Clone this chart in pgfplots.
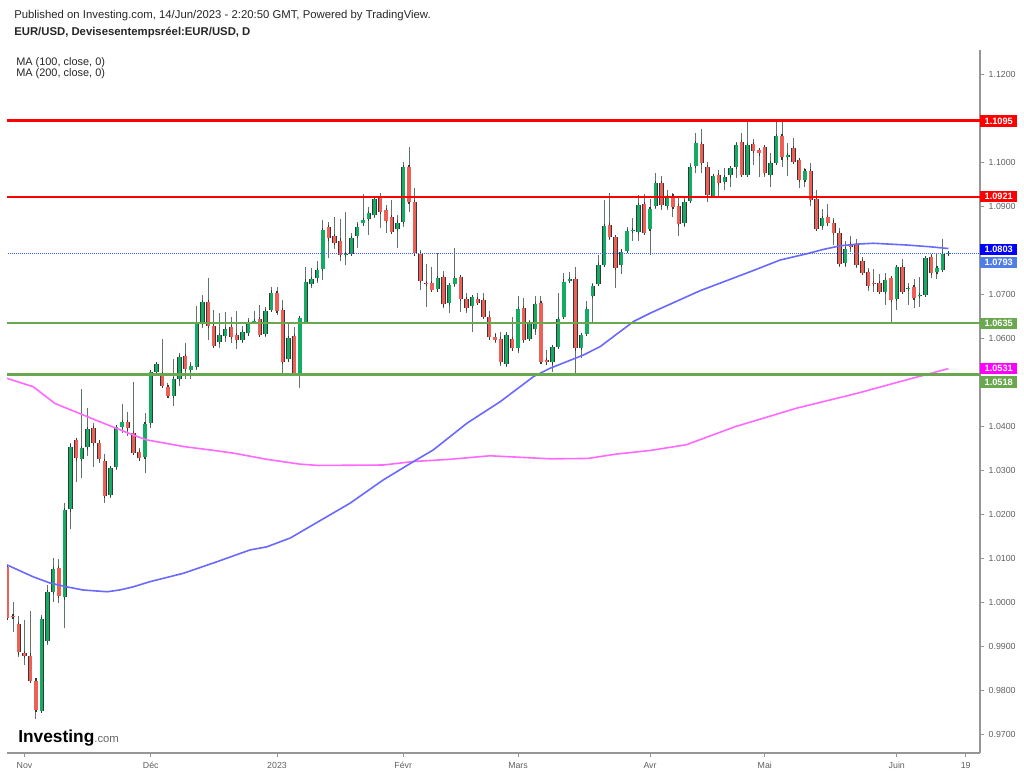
\documentclass[border=0pt]{standalone}
\usepackage{fontspec}
\setmainfont{Liberation Sans}
\usepackage{pgfplots}
\usepackage{pgfplotstable}
\pgfplotsset{compat=1.18}
\definecolor{axisgray}{RGB}{150,150,150}
\definecolor{labgray}{RGB}{95,95,95}
\definecolor{redline}{RGB}{255,0,0}
\definecolor{greenline}{RGB}{106,168,79}
\definecolor{maone}{RGB}{105,105,255}
\definecolor{matwo}{RGB}{255,105,255}
\definecolor{curblue}{RGB}{60,95,245}
\definecolor{boxcur}{RGB}{80,125,230}
\definecolor{boxblue}{RGB}{0,0,255}
\definecolor{boxmag}{RGB}{255,0,255}
\definecolor{gfill}{RGB}{18,172,98}
\definecolor{rfill}{RGB}{238,96,86}
\definecolor{outl}{RGB}{55,55,55}
\definecolor{wick}{RGB}{100,115,105}

\pgfplotstableread{
i o h l c
3 0.9754 0.9971 0.9748 0.9962
4 0.9913 1.0039 0.9903 1.0023
5 1.0024 1.0101 1.0001 1.0075
7 1.0011 1.0226 0.9941 1.0210
8 1.0211 1.0363 1.0166 1.0354
10 1.0326 1.0484 1.0282 1.0350
11 1.0352 1.0441 1.0333 1.0394
15 1.0244 1.0310 1.0236 1.0306
16 1.0307 1.0399 1.0301 1.0398
17 1.0399 1.0451 1.0384 1.0410
21 1.0330 1.0431 1.0293 1.0405
22 1.0408 1.0524 1.0395 1.0523
23 1.0524 1.0546 1.0521 1.0541
26 1.0469 1.0552 1.0446 1.0507
27 1.0508 1.0567 1.0492 1.0558
29 1.0528 1.0547 1.0507 1.0537
30 1.0535 1.0674 1.0528 1.0633
31 1.0634 1.0698 1.0623 1.0682
34 1.0592 1.0658 1.0577 1.0607
35 1.0606 1.0659 1.0591 1.0621
38 1.0596 1.0629 1.0589 1.0615
39 1.0611 1.0645 1.0608 1.0636
40 1.0637 1.0661 1.0634 1.0639
42 1.0610 1.0672 1.0604 1.0662
43 1.0664 1.0716 1.0661 1.0704
46 1.0552 1.0638 1.0547 1.0600
48 1.0522 1.0649 1.0486 1.0645
49 1.0638 1.0761 1.0634 1.0729
50 1.0723 1.0759 1.0714 1.0734
51 1.0736 1.0776 1.0726 1.0755
52 1.0757 1.0869 1.0733 1.0846
56 1.0790 1.0888 1.0767 1.0792
57 1.0792 1.0840 1.0789 1.0827
58 1.0833 1.0865 1.0805 1.0854
59 1.0861 1.0928 1.0855 1.0869
60 1.0871 1.0899 1.0835 1.0884
61 1.0880 1.0922 1.0873 1.0916
65 1.0848 1.0880 1.0805 1.0863
66 1.0865 1.1001 1.0854 1.0990
72 1.0711 1.0793 1.0706 1.0736
74 1.0680 1.0725 1.0658 1.0721
75 1.0723 1.0805 1.0717 1.0736
78 1.0673 1.0698 1.0615 1.0693
84 1.0542 1.0615 1.0535 1.0608
86 1.0577 1.0695 1.0566 1.0666
88 1.0598 1.0642 1.0594 1.0634
89 1.0620 1.0695 1.0608 1.0678
92 1.0545 1.0585 1.0524 1.0581
93 1.0581 1.0702 1.0575 1.0643
94 1.0648 1.0749 1.0643 1.0729
95 1.0731 1.0751 1.0730 1.0734
97 1.0579 1.0613 1.0555 1.0608
98 1.0610 1.0685 1.0608 1.0666
99 1.0697 1.0726 1.0634 1.0719
100 1.0723 1.0789 1.0721 1.0767
101 1.0767 1.0914 1.0761 1.0855
104 1.0767 1.0802 1.0746 1.0797
105 1.0798 1.0854 1.0795 1.0844
106 1.0844 1.0873 1.0820 1.0845
107 1.0842 1.0926 1.0822 1.0902
109 1.0848 1.0916 1.0789 1.0894
110 1.0901 1.0975 1.0893 1.0952
112 1.0901 1.0937 1.0892 1.0920
115 1.0861 1.0918 1.0854 1.0909
116 1.0913 1.0999 1.0910 1.0989
117 1.0992 1.1067 1.0975 1.1043
120 1.0923 1.0973 1.0919 1.0969
122 1.0956 1.0986 1.0937 1.0966
123 1.0970 1.0992 1.0943 1.0986
124 1.0990 1.1047 1.0964 1.1039
126 1.0971 1.1092 1.0967 1.1039
130 1.0971 1.1020 1.0943 1.0999
131 1.0999 1.1092 1.0998 1.1060
133 1.1011 1.1043 1.0969 1.1017
136 1.0960 1.0986 1.0943 1.0980
139 1.0856 1.0893 1.0846 1.0873
143 1.0770 1.0822 1.0761 1.0802
150 1.0706 1.0748 1.0676 1.0733
152 1.0689 1.0767 1.0664 1.0761
154 1.0713 1.0725 1.0676 1.0714
156 1.0696 1.0740 1.0672 1.0698
157 1.0698 1.0785 1.0696 1.0782
159 1.0751 1.0792 1.0734 1.0759
160 1.0755 1.0825 1.0754 1.0792
161 1.0792 1.0797 1.0786 1.0793
}\greendata

\pgfplotstableread{
i o h l c
-3 1.0081 1.0085 0.9962 0.9964
-2 0.9969 1.0001 0.9933 0.9966
-1 0.9951 0.9969 0.9876 0.9886
0 0.9885 0.9960 0.9858 0.9878
1 0.9879 0.9980 0.9820 0.9821
2 0.9822 0.9826 0.9734 0.9755
6 1.0077 1.0098 0.9998 1.0014
9 1.0369 1.0373 1.0274 1.0327
12 1.0395 1.0407 1.0308 1.0361
13 1.0363 1.0369 1.0316 1.0326
14 1.0320 1.0337 1.0226 1.0242
18 1.0410 1.0433 1.0378 1.0395
19 1.0384 1.0501 1.0335 1.0340
20 1.0341 1.0350 1.0323 1.0327
24 1.0519 1.0598 1.0486 1.0492
25 1.0490 1.0498 1.0467 1.0469
28 1.0560 1.0590 1.0507 1.0530
32 1.0683 1.0736 1.0596 1.0628
33 1.0628 1.0664 1.0580 1.0583
36 1.0626 1.0649 1.0589 1.0604
37 1.0608 1.0661 1.0575 1.0595
41 1.0643 1.0676 1.0604 1.0608
44 1.0702 1.0716 1.0653 1.0663
45 1.0664 1.0687 1.0522 1.0547
47 1.0605 1.0626 1.0519 1.0520
53 1.0852 1.0865 1.0782 1.0827
54 1.0833 1.0875 1.0802 1.0816
55 1.0822 1.0871 1.0776 1.0789
62 1.0918 1.0930 1.0850 1.0888
63 1.0892 1.0903 1.0840 1.0867
64 1.0875 1.0914 1.0839 1.0842
67 1.0990 1.1035 1.0888 1.0909
68 1.0910 1.0941 1.0789 1.0793
69 1.0792 1.0801 1.0710 1.0731
70 1.0726 1.0769 1.0672 1.0723
71 1.0726 1.0763 1.0706 1.0710
73 1.0739 1.0754 1.0668 1.0677
76 1.0740 1.0744 1.0660 1.0689
77 1.0689 1.0702 1.0657 1.0668
79 1.0689 1.0702 1.0678 1.0681
80 1.0687 1.0702 1.0645 1.0648
81 1.0649 1.0663 1.0600 1.0602
82 1.0604 1.0611 1.0589 1.0596
83 1.0598 1.0615 1.0537 1.0547
85 1.0598 1.0648 1.0570 1.0577
87 1.0668 1.0691 1.0589 1.0596
90 1.0681 1.0696 1.0545 1.0547
91 1.0551 1.0573 1.0543 1.0545
96 1.0734 1.0761 1.0519 1.0577
102 1.0858 1.0931 1.0823 1.0830
103 1.0830 1.0831 1.0714 1.0759
108 1.0905 1.0927 1.0835 1.0839
111 1.0952 1.0969 1.0892 1.0903
113 1.0922 1.0930 1.0876 1.0898
114 1.0901 1.0918 1.0833 1.0860
118 1.1042 1.1075 1.0975 1.0999
119 1.0989 1.1001 1.0910 1.0926
121 1.0971 1.0983 1.0922 1.0954
125 1.1045 1.1067 1.0967 1.0971
127 1.1042 1.1052 1.0994 1.1026
128 1.1028 1.1032 1.0967 1.1020
129 1.1034 1.1037 1.0967 1.0975
132 1.1060 1.1092 1.0990 1.1011
134 1.1032 1.1055 1.0998 1.1001
135 1.1005 1.1009 1.0941 1.0960
137 1.0981 1.0999 1.0901 1.0914
138 1.0916 1.0937 1.0846 1.0848
140 1.0875 1.0905 1.0858 1.0861
141 1.0863 1.0873 1.0812 1.0840
142 1.0839 1.0850 1.0763 1.0769
144 1.0814 1.0833 1.0797 1.0808
145 1.0812 1.0825 1.0759 1.0767
146 1.0776 1.0785 1.0746 1.0748
147 1.0750 1.0759 1.0708 1.0719
148 1.0725 1.0757 1.0706 1.0723
149 1.0726 1.0746 1.0704 1.0705
151 1.0736 1.0740 1.0638 1.0687
153 1.0761 1.0780 1.0702 1.0706
155 1.0716 1.0734 1.0668 1.0691
158 1.0784 1.0792 1.0736 1.0748
}\reddata

\pgfplotsset{
  wickstyle/.style={draw=none, forget plot,
    error bars/.cd, y dir=plus, y explicit, error mark=none,
    error bar style={draw=wick, line width=0.75pt}},
  outlstyle/.style={draw=none, forget plot,
    error bars/.cd, y dir=both, y explicit, error mark=-,
    error mark options={draw=outl, line width=0.8pt, mark size=1.6pt},
    error bar style={draw=outl, line width=3.2pt}},
  bodystyle/.style={draw=none, forget plot,
    error bars/.cd, y dir=plus, y explicit, error mark=none,
    error bar style={draw=#1, line width=2.4pt}},
}

\begin{document}
\begin{tikzpicture}
\path[use as bounding box] (0pt,0pt) rectangle (768pt,582pt);
\begin{axis}[
  at={(5.25pt,17.25pt)}, anchor=south west,
  scale only axis, width=729.75pt, height=527.25pt,
  xmin=-3.05, xmax=166.5, ymin=0.96575, ymax=1.12552,
  axis x line*=bottom, axis y line*=right,
  axis line style={draw=axisgray, line width=0.9pt},
  xtick={0,22,44,66,86,109,129,152,164},
  xticklabels={Nov,Déc,2023,Févr,Mars,Avr,Mai,Juin,19},
  ytick={0.97,0.98,0.99,1.00,1.01,1.02,1.03,1.04,1.05,1.06,1.07,1.08,1.09,1.10,1.11,1.12},
  yticklabels={0.9700,0.9800,0.9900,1.0000,1.0100,1.0200,1.0300,1.0400,{},1.0600,1.0700,{},1.0900,1.1000,{},1.1200},
  tick align=outside, major tick length=3pt,
  tick style={draw=axisgray, line width=0.6pt},
  yticklabel style={font=\fontsize{6.6}{7}\selectfont, text=labgray},
  xticklabel style={font=\fontsize{6.6}{7}\selectfont, text=labgray, text height=5pt, text depth=1.5pt},
  clip=true,
]
% wicks
\addplot[wickstyle] table[x=i, y=l, y error plus expr=\thisrow{h}-\thisrow{l}] {\greendata};
\addplot[wickstyle] table[x=i, y=l, y error plus expr=\thisrow{h}-\thisrow{l}] {\reddata};
% body outlines
\addplot[outlstyle] table[x=i, y=o, y error plus expr=\thisrow{c}-\thisrow{o}, y error minus expr=0] {\greendata};
\addplot[outlstyle] table[x=i, y=c, y error plus expr=\thisrow{o}-\thisrow{c}, y error minus expr=0] {\reddata};
% body fills
\addplot[bodystyle=gfill] table[x=i, y=o, y error plus expr=\thisrow{c}-\thisrow{o}] {\greendata};
\addplot[bodystyle=rfill] table[x=i, y=c, y error plus expr=\thisrow{o}-\thisrow{c}] {\reddata};

% MA 200
\addplot[matwo, line width=1.2pt, line join=round] coordinates {
(-3.05,1.0509) (1.5,1.0490) (5.3,1.0452) (7.35,1.0441) (11.7,1.0418) (13.2,1.0410)
(19.0,1.0380) (21.3,1.0369) (24.8,1.0361) (27.7,1.0354) (33.1,1.0345) (36.4,1.0339)
(42.2,1.0325) (48.0,1.0314) (51.2,1.0311) (62.5,1.0312) (67.8,1.0320) (74.2,1.0325)
(81.1,1.0333) (91.8,1.0326) (98.2,1.0327) (103.2,1.0337) (109.0,1.0345) (115.3,1.0358)
(123.8,1.0399) (134.5,1.0441) (145.1,1.0475) (155.8,1.0513) (161.0,1.0531)};
% MA 100
\addplot[maone, line width=1.2pt, line join=round] coordinates {
(-3.05,1.0085) (1.5,1.0058) (4.4,1.0044) (7.4,1.0035) (10.2,1.0028) (14.4,1.0024)
(16.6,1.0028) (18.9,1.0035) (21.9,1.0047) (27.7,1.0066) (33.5,1.0092) (39.3,1.0119)
(42.2,1.0126) (46.3,1.0146) (50.9,1.0181) (56.7,1.0225) (62.5,1.0278) (67.8,1.0320)
(71.2,1.0346) (77.1,1.0407) (82.9,1.0456) (88.7,1.0513) (91.6,1.0532) (97.4,1.0562)
(100.3,1.0581) (106.1,1.0638) (109.0,1.0657) (117.7,1.0708) (126.4,1.0751) (131.7,1.0778)
(136.3,1.0792) (139.2,1.0802) (142.1,1.0810) (145.0,1.0814) (147.9,1.0816) (150.8,1.0814)
(153.7,1.0812) (157.8,1.0808) (161.0,1.0804)};

% horizontal levels
\addplot[redline, line width=2pt] coordinates {(-4,1.1095) (170,1.1095)};
\addplot[redline, line width=2pt] coordinates {(-4,1.0921) (170,1.0921)};
\addplot[greenline, line width=1.8pt] coordinates {(-4,1.0635) (170,1.0635)};
\addplot[greenline, line width=1.8pt] coordinates {(-4,1.0518) (170,1.0518)};
\addplot[curblue, line width=0.5pt, densely dotted] coordinates {(-4,1.0793) (170,1.0793)};
\end{axis}

% price boxes on the right axis
\tikzset{pbox/.style={anchor=west, inner sep=0pt, minimum width=27.75pt, minimum height=8.6pt,
  text=white, font=\bfseries\fontsize{6.9}{7}\selectfont}}
\node[pbox, fill=redline] at (735pt,491.25pt) {1.1095};
\node[pbox, fill=redline] at (735pt,434.5pt) {1.0921};
\node[pbox, fill=boxblue] at (735pt,394.9pt) {1.0803};
\node[pbox, fill=boxcur] at (735pt,385.1pt) {1.0793};
\node[pbox, fill=greenline] at (735pt,339.5pt) {1.0635};
\node[pbox, fill=boxmag] at (735pt,305.5pt) {1.0531};
\node[pbox, fill=greenline] at (735pt,295.5pt) {1.0518};

% header texts
\node[anchor=base west, inner sep=0pt, font=\fontsize{8.5}{9}\selectfont, text=black!85]
  at (10.5pt,567.75pt) {Published on Investing.com, 14/Jun/2023 - 2:20:50 GMT, Powered by TradingView.};
\node[anchor=base west, inner sep=0pt, font=\bfseries\fontsize{8.5}{9}\selectfont, text=black!85]
  at (10.5pt,555pt) {EUR/USD, Devisesentempsréel:EUR/USD, D};
\node[anchor=base west, inner sep=0pt, font=\fontsize{8.2}{9}\selectfont, text=black!85]
  at (12pt,532.5pt) {MA (100, close, 0)};
\node[anchor=base west, inner sep=0pt, font=\fontsize{8.2}{9}\selectfont, text=black!85]
  at (12pt,524.9pt) {MA (200, close, 0)};

% logo
\node[anchor=base west, inner sep=0pt, font=\bfseries\fontsize{13}{14}\selectfont, text=black]
  at (13.5pt,25.5pt) {Investing\textcolor{black!60}{\mdseries\fontsize{8.5}{9}\selectfont.com}};
\end{tikzpicture}
\end{document}
